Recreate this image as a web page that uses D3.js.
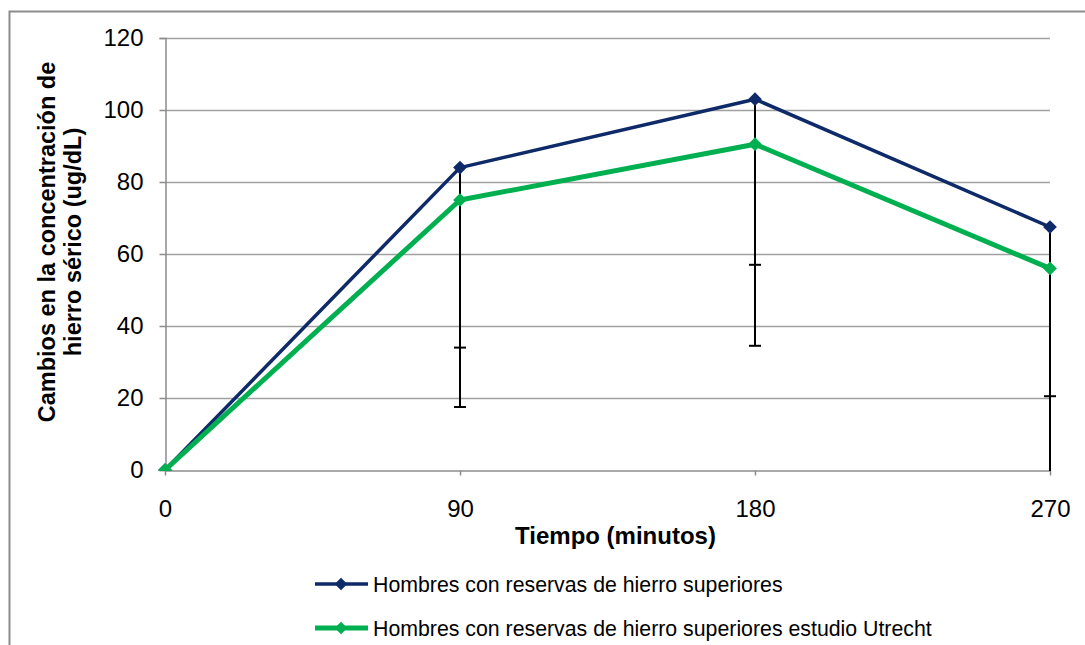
<!DOCTYPE html>
<html>
<head>
<meta charset="utf-8">
<script src="https://cdn.jsdelivr.net/npm/d3@7"></script>
<style>
  body { margin: 0; background: #fff; }
  svg { display: block; font-family: "Liberation Sans", Arial, sans-serif; }
</style>
</head>
<body>
<svg id="chart" width="1085" height="645"></svg>
<script>
// data
const minutes = [0, 90, 180, 270];
const yTicks = [0, 20, 40, 60, 80, 100, 120];

const superiores = [0, 84, 103, 67.5];
const superioresErr = [0, 50, 46, 47];       // minus-only error bars

const utrecht = [0, 75, 90.5, 56];
const utrechtErr = [0, 57.5, 56, 60];

const seriesNames = [
  "Hombres con reservas de hierro superiores",
  "Hombres con reservas de hierro superiores estudio Utrecht"
];
const seriesColors = ["#0f2a68", "#00b050"];
const seriesWidths = [3.5, 5];

const series = [
  { name: seriesNames[0], values: superiores, err: superioresErr, color: seriesColors[0], w: seriesWidths[0] },
  { name: seriesNames[1], values: utrecht, err: utrechtErr, color: seriesColors[1], w: seriesWidths[1] }
];

const svg = d3.select("#chart");

// outer chart border (only left and top visible in the reference)
svg.append("rect")
    .attr("x", 9.5).attr("y", 11.5)
    .attr("width", 1200).attr("height", 700)
    .attr("fill", "none")
    .attr("stroke", "#8c8c8c")
    .attr("stroke-width", 2);

const x = d3.scaleLinear().domain([0, 270]).range([165, 1050]);
const y = d3.scaleLinear().domain([0, 120]).range([470, 38]);

// gridlines
svg.append("g")
    .selectAll("line")
    .data(yTicks.filter(d => d > 0))
    .join("line")
      .attr("x1", x(0)).attr("x2", x(270))
      .attr("y1", d => y(d) + 0.5).attr("y2", d => y(d) + 0.5)
      .attr("stroke", "#a0a0a0")
      .attr("stroke-width", 1.5);

// y axis
const yAxis = svg.append("g")
    .attr("transform", `translate(${x(0) + 0.5},0)`)
    .call(d3.axisLeft(y).tickValues(yTicks).tickSize(6).tickPadding(16));
yAxis.select(".domain").attr("stroke", "#8c8c8c").attr("stroke-width", 1.5);
yAxis.selectAll(".tick line").attr("stroke", "#8c8c8c").attr("stroke-width", 1.5);
yAxis.selectAll(".tick text")
    .attr("font-size", 24)
    .attr("fill", "#000")
    .attr("font-family", "Liberation Sans, Arial, sans-serif");

// x axis
const xAxis = svg.append("g")
    .attr("transform", `translate(0,${y(0) + 0.5})`)
    .call(d3.axisBottom(x).tickValues(minutes).tickSize(5).tickPadding(24).tickSizeOuter(0));
xAxis.select(".domain").attr("stroke", "#8c8c8c").attr("stroke-width", 1.5);
xAxis.selectAll(".tick line").attr("stroke", "#8c8c8c").attr("stroke-width", 1.5);
xAxis.selectAll(".tick text")
    .attr("font-size", 24)
    .attr("fill", "#000")
    .attr("font-family", "Liberation Sans, Arial, sans-serif");

// axis titles
svg.append("text")
    .attr("x", x(135) + 8).attr("y", 544)
    .attr("text-anchor", "middle")
    .attr("font-size", 24)
    .attr("font-weight", "bold")
    .text("Tiempo (minutos)");

const yTitle = svg.append("text")
    .attr("transform", "translate(0,242) rotate(-90)")
    .attr("text-anchor", "middle")
    .attr("font-size", 23.5)
    .attr("font-weight", "bold");
yTitle.append("tspan").attr("x", 0).attr("y", 55).text("Cambios en la concentración de");
yTitle.append("tspan").attr("x", 0).attr("y", 81).text("hierro sérico (ug/dL)");

// clip to plot area
svg.append("clipPath").attr("id", "plot")
  .append("rect")
    .attr("x", x(0) - 20).attr("y", y(120) - 20)
    .attr("width", x(270) - x(0) + 40).attr("height", y(0) - y(120) + 21);

const plot = svg.append("g").attr("clip-path", "url(#plot)");

// error bars (minus only)
series.forEach(s => {
  const g = plot.append("g");
  const pts = minutes.map((m, i) => ({ m, v: s.values[i], e: s.err[i] })).filter(d => d.e > 0);
  g.selectAll("line.bar")
    .data(pts)
    .join("line")
      .attr("class", "bar")
      .attr("x1", d => x(d.m)).attr("x2", d => x(d.m))
      .attr("y1", d => y(d.v)).attr("y2", d => y(d.v - d.e))
      .attr("stroke", "#000").attr("stroke-width", 2);
  g.selectAll("line.cap")
    .data(pts)
    .join("line")
      .attr("class", "cap")
      .attr("x1", d => x(d.m) - 6).attr("x2", d => x(d.m) + 6)
      .attr("y1", d => y(d.v - d.e)).attr("y2", d => y(d.v - d.e))
      .attr("stroke", "#000").attr("stroke-width", 2);
});

const line = d3.line().x((d, i) => x(minutes[i])).y(d => y(d));
const diamond = d3.symbol().type(d3.symbolDiamond2);

series.forEach(s => {
  plot.append("path")
      .datum(s.values)
      .attr("d", line)
      .attr("fill", "none")
      .attr("stroke", s.color)
      .attr("stroke-width", s.w)
      .attr("stroke-linejoin", "round");
  plot.selectAll(null)
    .data(s.values)
    .join("path")
      .attr("transform", (d, i) => `translate(${x(minutes[i])},${y(d)})`)
      .attr("d", diamond.size(120))
      .attr("fill", s.color);
});

// legend
const legend = svg.append("g");
const legendY = [584, 628];
series.forEach((s, i) => {
  const g = legend.append("g").attr("transform", `translate(0,${legendY[i]})`);
  g.append("line")
      .attr("x1", 315).attr("x2", 368)
      .attr("stroke", s.color).attr("stroke-width", s.w);
  g.append("path")
      .attr("transform", "translate(341,0)")
      .attr("d", diamond.size(100))
      .attr("fill", s.color);
  g.append("text")
      .attr("x", 373).attr("y", 8)
      .attr("font-size", 21.3)
      .attr("fill", "#000")
      .text(s.name);
});
</script>
</body>
</html>
